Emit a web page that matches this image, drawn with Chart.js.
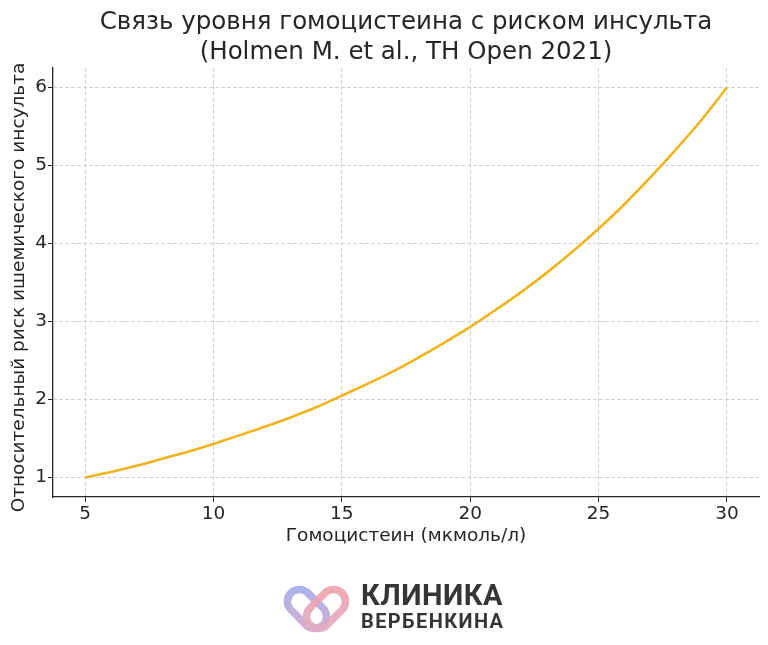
<!DOCTYPE html>
<html>
<head>
<meta charset="utf-8">
<script src="https://cdn.jsdelivr.net/npm/chart.js@4"></script>
<style>
    html, body { margin: 0; padding: 0; background: #fff; }
    #wrap { position: relative; width: 768px; height: 645px; }
    #chart { position: absolute; left: 0; top: 0; }
    #icon { position: absolute; left: 270px; top: 570px; }
    #brand { position: absolute; left: 361px; top: 580px; font-family: Roboto, sans-serif; color: #353535; font-weight: 700; }
    #brand .l1 { font-size: 29px; line-height: 30px; letter-spacing: 0.5px; }
    #brand .l2 { font-size: 20px; line-height: 22px; letter-spacing: 1.4px; }
</style>
</head>
<body>
<div id="wrap">
    <canvas id="chart" width="768" height="645"></canvas>
    <svg id="icon" width="90" height="70" viewBox="0 0 90 70">
        <defs>
            <linearGradient id="gl" gradientUnits="userSpaceOnUse" x1="15" y1="18" x2="55" y2="60">
                <stop offset="0" stop-color="#a4b4f2"/>
                <stop offset="1" stop-color="#dab0cb"/>
            </linearGradient>
            <linearGradient id="gr" gradientUnits="userSpaceOnUse" x1="78" y1="18" x2="38" y2="60">
                <stop offset="0" stop-color="#f4a0a8"/>
                <stop offset="1" stop-color="#dcaec8"/>
            </linearGradient>
        </defs>
        <rect x="14.35" y="27" width="45.3" height="24" rx="12" transform="rotate(45 37 39)"
              fill="none" stroke="url(#gl)" stroke-width="7.5"/>
        <rect x="33.35" y="27" width="45.3" height="24" rx="12" transform="rotate(-45 56 39)"
              fill="none" stroke="url(#gr)" stroke-width="7.5" opacity="0.92"/>
    </svg>
    <div id="brand">
        <div class="l1">КЛИНИКА</div>
        <div class="l2">ВЕРБЕНКИНА</div>
    </div>
</div>
<script>
// homocysteine levels, µmol/L
const homocysteine = [5, 6, 7, 8, 9, 10, 11, 12, 13, 14, 15, 16, 17, 18, 19, 20,
    21, 22, 23, 24, 25, 26, 27, 28, 29, 30];
// relative risk of ischemic stroke
const relativeRisk = [1.00, 1.07, 1.15, 1.24, 1.33, 1.43, 1.54, 1.65, 1.77, 1.90, 2.05,
    2.20, 2.36, 2.54, 2.73, 2.93, 3.15, 3.38, 3.63, 3.90, 4.19, 4.50, 4.84, 5.20, 5.58, 6.00];
const xTicks = [5, 10, 15, 20, 25, 30];
const yTicks = [1, 2, 3, 4, 5, 6];

const titleLines = ['Связь уровня гомоцистеина с риском инсульта', '(Holmen M. et al., TH Open 2021)'];
const xTitle = 'Гомоцистеин (мкмоль/л)';
const yTitle = 'Относительный риск ишемического инсульта';

const FONT = "'DejaVu Sans', sans-serif";
const ink = '#262626';

// title centred over the plot area, y label nudged like the original
const extraText = {
    id: 'extraText',
    afterDraw(chart) {
        const c = chart.ctx;
        const area = chart.chartArea;
        const cx = (area.left + area.right) / 2;
        c.save();
        c.fillStyle = ink;
        c.textAlign = 'center';
        c.textBaseline = 'middle';
        c.font = "24.5px " + FONT;
        titleLines.forEach((line, i) => c.fillText(line, cx, 23 + i * 29.5));
        c.translate(19, (area.top + area.bottom) / 2 + 5);
        c.rotate(-Math.PI / 2);
        c.font = "18.5px " + FONT;
        c.fillText(yTitle, 0, 0);
        c.restore();
    }
};

const gridOpts = {
    color: '#cfcfcf',
    lineWidth: 1,
    tickColor: ink,
    tickLength: 5,
    tickBorderDash: []
};

const ctx = document.getElementById('chart').getContext('2d');

new Chart(ctx, {
    type: 'line',
    data: {
        datasets: [{
            data: homocysteine.map((x, i) => ({ x: x, y: relativeRisk[i] })),
            borderColor: '#f0b41f',
            borderWidth: 2.6,
            pointRadius: 0,
            fill: false,
            cubicInterpolationMode: 'monotone'
        }]
    },
    options: {
        responsive: false,
        animation: false,
        layout: { padding: { left: 0, right: 9, top: 68, bottom: 90 } },
        plugins: {
            legend: { display: false },
            tooltip: { enabled: false },
            title: { display: false }
        },
        scales: {
            x: {
                type: 'linear',
                min: 3.75,
                max: 31.25,
                afterBuildTicks: (scale) => { scale.ticks = xTicks.map(v => ({ value: v })); },
                afterFit: (scale) => { scale.height = 58; },
                ticks: { color: ink, font: { family: FONT, size: 18.5 }, padding: 1 },
                grid: gridOpts,
                border: { display: true, color: ink, width: 1.3, dash: [3.5, 2.5] },
                title: {
                    display: true,
                    text: xTitle,
                    color: ink,
                    font: { family: FONT, size: 18.5 },
                    padding: { top: 0, bottom: 8 }
                }
            },
            y: {
                type: 'linear',
                min: 0.75,
                max: 6.25,
                afterBuildTicks: (scale) => { scale.ticks = yTicks.map(v => ({ value: v })); },
                afterFit: (scale) => { scale.width = 53; },
                ticks: { color: ink, font: { family: FONT, size: 18.5 }, padding: 1 },
                grid: gridOpts,
                border: { display: true, color: ink, width: 1.3, dash: [3.5, 2.5] },
                title: { display: false }
            }
        }
    },
    plugins: [extraText]
});
</script>
</body>
</html>
